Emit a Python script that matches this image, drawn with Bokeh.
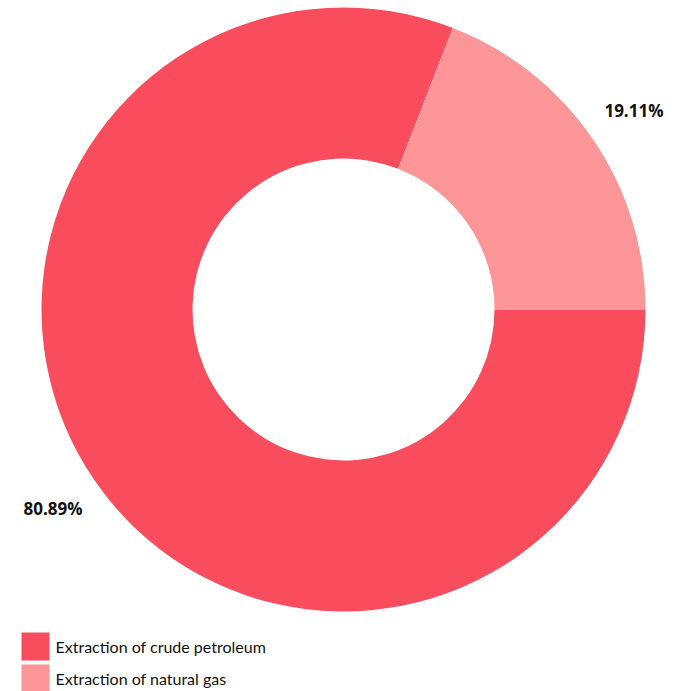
import math
from bokeh.plotting import figure
from bokeh.models import ColumnDataSource
from bokeh.core.properties import value
from bokeh.embed import file_html
from bokeh.resources import INLINE

categories = ["Extraction of crude petroleum", "Extraction of natural gas"]
shares = [80.89, 19.11]
colors = ["#F94D5D", "#FC9598"]
labels = ["80.89%", "19.11%"]

W, H = 675, 691
p = figure(width=W, height=H, x_range=(0, W), y_range=(0, H),
           output_backend="svg", toolbar_location=None, min_border=0,
           outline_line_color=None)
p.axis.visible = False
p.grid.visible = False
p.background_fill_color = "white"

cx, cy = 343, H - 309
r_out, r_in = 302, 151

# natural gas starts at 0 (3 o'clock) going anticlockwise, crude fills the rest
total = sum(shares)
gas_frac = shares[1] / total
starts = [2 * math.pi * gas_frac, 0.0]
ends = [2 * math.pi, 2 * math.pi * gas_frac]
mids = [(s + e) / 2 for s, e in zip(starts, ends)]
r_lab = 352
src = ColumnDataSource(dict(
    start=starts, end=ends, color=colors, cat=categories, label=labels,
    lx=[cx + r_lab * math.cos(m) for m in mids],
    ly=[cy + r_lab * math.sin(m) for m in mids],
))
p.annular_wedge(x=cx, y=cy, inner_radius=r_in, outer_radius=r_out,
                start_angle="start", end_angle="end", fill_color="color",
                line_color=None, source=src)
p.text(x="lx", y="ly", text="label", source=src, text_align="center",
       text_baseline="middle", text_font=value("Open Sans"),
       text_font_style="bold", text_font_size="17px", text_color="#111111")

# legend
leg_y = [H - 646, H - 678]
leg = ColumnDataSource(dict(x=[35, 35], y=leg_y, color=colors, cat=categories,
                            tx=[55, 55]))
p.rect(x="x", y="y", width=28, height=28, fill_color="color", line_color=None,
       source=leg)
p.text(x="tx", y="y", text="cat", source=leg, text_baseline="middle",
       text_font=value("Lato"), text_font_size="16px", text_color="#111111")

open("out.html", "w").write(file_html(p, INLINE))
